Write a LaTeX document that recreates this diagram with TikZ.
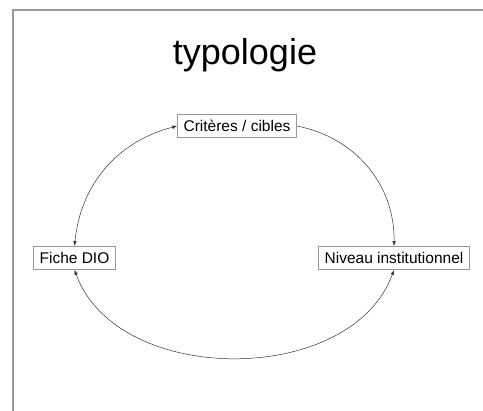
\documentclass[tikz,border=0pt]{standalone}
\usepackage{fontspec}
\setmainfont{Liberation Sans}
\usetikzlibrary{arrows.meta}

\tikzset{
	boite/.style={draw=gray!80, line width=0.8pt, fill=white, inner xsep=6pt,
		minimum height=23pt, font=\fontsize{15.5}{18}\selectfont},
	lien/.style={draw=black!80, line width=0.5pt},
	tete/.style={-{Latex[length=5pt,width=3.5pt]}},
}

\begin{document}
\begin{tikzpicture}[x=1pt,y=1pt]
	\useasboundingbox (0,0) rectangle (483,411);
	% cadre
	\draw[gray!80, line width=1.2pt] (483,401) -- (13,401) -- (13,0);
	\node (titre) at (245,356) {\fontsize{36}{40}\selectfont typologie};

	\node[boite] (crit) at (237,285) {Critères / cibles};
	\node[boite] (fiche) at (74.5,153) {Fiche DIO};
	\node[boite] (niveau) at (394,153) {Niveau institutionnel};

	\draw[lien, {Latex[length=5pt,width=3.5pt]}-{Latex[length=5pt,width=3.5pt]}] (crit.west) to[bend right=35] (fiche.north);
	\draw[lien, tete] (crit.east) to[bend left=40] (niveau.north);
	\draw[lien, {Latex[length=5pt,width=3.5pt]}-{Latex[length=5pt,width=3.5pt]}] (fiche.south) to[bend right=70] (niveau.south);
\end{tikzpicture}
\end{document}
